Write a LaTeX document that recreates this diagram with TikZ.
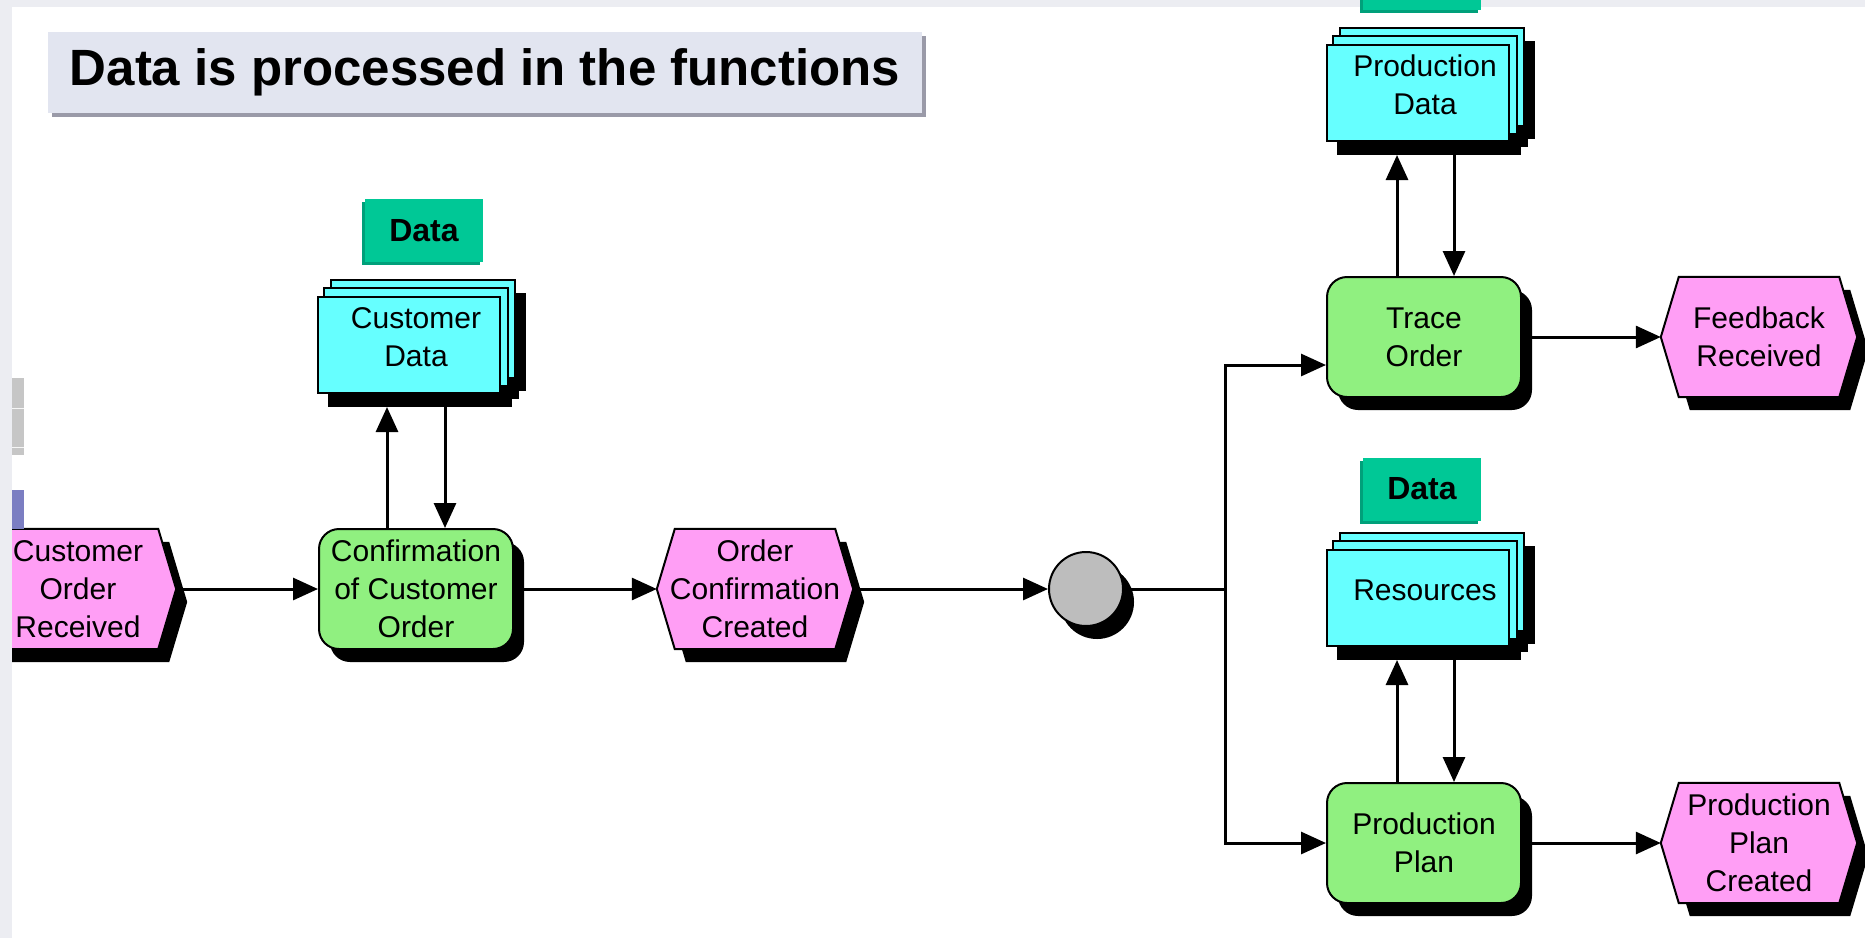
\documentclass[tikz,border=0pt]{standalone}
\usepackage{fontspec}
\setmainfont{Liberation Sans}
\usetikzlibrary{arrows.meta,shadows,backgrounds,calc}

\definecolor{evpink}{HTML}{FF9EF5}
\definecolor{fngreen}{HTML}{90F080}
\definecolor{datacyan}{HTML}{66FFFF}
\definecolor{tagteal}{HTML}{00C896}
\definecolor{tagedge}{HTML}{00A07A}
\definecolor{conngray}{HTML}{BDBDBD}
\definecolor{titlefill}{HTML}{E2E5F0}
\definecolor{titleshadow}{HTML}{9A9AA8}
\definecolor{pagestrip}{HTML}{ECEDF2}
\definecolor{sidegray}{HTML}{C6C6C6}
\definecolor{sideblue}{HTML}{7B7EC2}

\newcommand{\bodyfont}{\fontsize{30}{38}\selectfont}

\tikzset{
  outline/.style={draw=black, line width=2pt},
  shadowed/.style={drop shadow={shadow xshift=11pt, shadow yshift=-13pt, fill=black, opacity=1}},
  fnbox/.style={outline, fill=fngreen, rounded corners=20pt, minimum width=194pt,
    minimum height=120pt, align=center, font=\bodyfont, inner sep=0pt, shadowed},
  evbox/.style={minimum width=196pt, minimum height=120pt, align=center,
    font=\bodyfont, inner sep=0pt},
  evline/.style={outline, fill=evpink},
  frontbox/.style={outline, fill=datacyan, minimum width=182pt, minimum height=96pt, inner sep=0pt},
  layer/.style={outline, fill=datacyan},
  stacklabel/.style={align=center, font=\bodyfont, inner sep=0pt},
  tag/.style={fill=tagteal, minimum width=118pt, minimum height=63pt,
    font=\fontsize{32}{38}\selectfont\bfseries, inner sep=0pt,
    drop shadow={shadow xshift=-3pt, shadow yshift=-3pt, fill=tagedge, opacity=1}},
  conn/.style={outline, circle, fill=conngray, minimum size=74pt, inner sep=0pt, shadowed},
  flow/.style={line width=3pt},
  arr/.style={flow, -{Triangle[length=25pt,width=22pt]}},
  titlebox/.style={fill=titlefill, minimum width=874pt, minimum height=81pt,
    font=\fontsize{51}{60}\selectfont\bfseries, inner sep=0pt,
    drop shadow={shadow xshift=4pt, shadow yshift=-4pt, fill=titleshadow, opacity=1}},
}

% hexagonal event outline with its shadow, drawn around a named node
\newcommand{\eventshape}[1]{%
  \begin{scope}[on background layer]
    \fill[black] ([shift={(11,13)}]#1.west) -- ([shift={(29,13)}]#1.north west)
      -- ([shift={(-7,13)}]#1.north east) -- ([shift={(11,13)}]#1.east)
      -- ([shift={(-7,13)}]#1.south east) -- ([shift={(29,13)}]#1.south west) -- cycle;
    \draw[evline] (#1.west) -- ([shift={(18,0)}]#1.north west)
      -- ([shift={(-18,0)}]#1.north east) -- (#1.east)
      -- ([shift={(-18,0)}]#1.south east) -- ([shift={(18,0)}]#1.south west) -- cycle;
  \end{scope}}

% stacked data sheets behind a named front sheet, with the common shadow
\newcommand{\stackshape}[1]{%
  \begin{scope}[on background layer]
    \foreach \dx/\dy in {14/-16, 7/-8, 0/0} {
      \fill[black] ($(#1.north west)+(\dx+11,\dy+13)$) rectangle ($(#1.south east)+(\dx+11,\dy+13)$);
    }
    \draw[layer] ($(#1.north west)+(14,-16)$) rectangle ($(#1.south east)+(14,-16)$);
    \draw[layer] ($(#1.north west)+(7,-8)$) rectangle ($(#1.south east)+(7,-8)$);
  \end{scope}}

\begin{document}
\begin{tikzpicture}[x=1pt, y=-1pt]
  \useasboundingbox (0,0) rectangle (1865,938);
  \begin{scope}[on background layer]
    \fill[white] (0,0) rectangle (1865,938);
    \fill[pagestrip] (0,0) rectangle (1865,7);
  \end{scope}

  % heading
  \node[titlebox] (title) at (485,72.5) {Data is processed in the functions};

  % events
  \node[evbox] (COR) at (78,589) {Customer\\Order\\Received};
  \eventshape{COR}
  \node[evbox] (OCC) at (755,589) {Order\\Confirmation\\Created};
  \eventshape{OCC}
  \node[evbox] (FB) at (1759,337) {Feedback\\Received};
  \eventshape{FB}
  \node[evbox] (PPC) at (1759,843) {Production\\Plan\\Created};
  \eventshape{PPC}

  % functions
  \node[fnbox] (CCO) at (416,589) {Confirmation\\of Customer\\Order};
  \node[fnbox] (TO) at (1424,337) {Trace\\Order};
  \node[fnbox] (PP) at (1424,843) {Production\\Plan};

  % data objects
  \node[frontbox] (CD) at (409,345) {};
  \stackshape{CD}
  \node[stacklabel] (CD-t) at ($(CD.center)+(7,-8)$) {Customer\\Data};
  \node[frontbox] (PD) at (1418,93) {};
  \stackshape{PD}
  \node[stacklabel] (PD-t) at ($(PD.center)+(7,-8)$) {Production\\Data};
  \node[frontbox] (RS) at (1418,598) {};
  \stackshape{RS}
  \node[stacklabel] (RS-t) at ($(RS.center)+(7,-8)$) {Resources};

  % data tags (the top one only shows its lower edge)
  \node[tag] (CD-tag) at (424,230.5) {Data};
  \node[tag] (RS-tag) at (1422,489) {Data};
  \node[tag] (PD-tag) at (1422,-21.5) {};

  % connector
  \node[conn] (circ) at (1086,589) {};
  \coordinate (br) at (1225,589);

  % control flow
  \draw[arr] (COR.east) -- (CCO.west);
  \draw[arr] (CCO.east) -- (OCC.west);
  \draw[arr] (OCC.east) -- (circ.west);
  \draw[flow] (circ.east) -- (br);
  \draw[arr] (br) |- ($(TO.west)+(0,28)$);
  \draw[arr] (br) |- (PP.west);
  \draw[arr] (TO.east) -- (FB.west);
  \draw[arr] (PP.east) -- (PPC.west);

  % data flow between functions and data objects
  \coordinate (CDb) at ($(CD.south)+(0,13)$);
  \coordinate (CDu) at ($(CCO.north)+(-29,0)$);
  \coordinate (CDd) at ($(CCO.north)+(29,0)$);
  \draw[arr] (CDu) -- (CDu |- CDb);
  \draw[arr] (CDd |- CDb) -- (CDd);

  \coordinate (PDb) at ($(PD.south)+(0,13)$);
  \coordinate (PDu) at ($(TO.north)+(-27,0)$);
  \coordinate (PDd) at ($(TO.north)+(30,0)$);
  \draw[arr] (PDu) -- (PDu |- PDb);
  \draw[arr] (PDd |- PDb) -- (PDd);

  \coordinate (RSb) at ($(RS.south)+(0,13)$);
  \coordinate (RSu) at ($(PP.north)+(-27,0)$);
  \coordinate (RSd) at ($(PP.north)+(30,0)$);
  \draw[arr] (RSu) -- (RSu |- RSb);
  \draw[arr] (RSd |- RSb) -- (RSd);

  % left page margin
  \fill[pagestrip] (0,0) rectangle (12,938);
  \fill[sidegray] (12,378) rectangle (24,455);
  \draw[white!85!sidegray, line width=1pt] (12,408) -- (24,408) (12,447) -- (24,447);
  \fill[sideblue] (12,490) rectangle (24,529);
\end{tikzpicture}
\end{document}
